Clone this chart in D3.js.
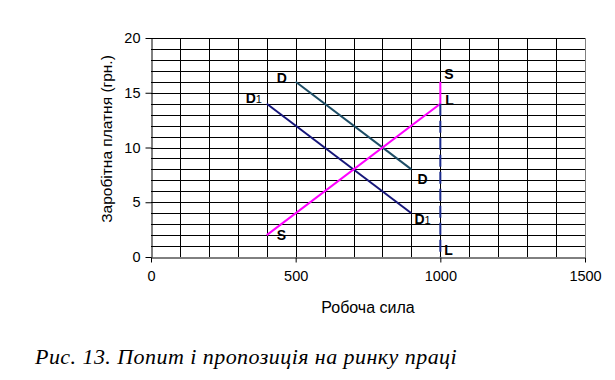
<!DOCTYPE html>
<html>
<head>
<meta charset="utf-8">
<script src="https://cdn.jsdelivr.net/npm/d3@7"></script>
<style>
body { margin: 0; background: #fff; }
</style>
</head>
<body>
<div class="chart"></div>
<script>
// data
var demandD = [[500, 16], [900, 8]];
var demandD1 = [[400, 14], [900, 4]];
var supplyS = [[400, 2], [1000, 14], [1000, 16]];
var limitL = [[1000, 14], [1000, 0]];
var xTicks = [0, 500, 1000, 1500];
var yTicks = [0, 5, 10, 15, 20];

var svgWidth = 615;
var svgHeight = 380;

var margin = { top: 38, right: 30, bottom: 123, left: 151 };
var width = 434;
var height = 219;

var sans = "'Liberation Sans', Arial, sans-serif";

var svg = d3.select(".chart")
    .append("svg")
    .attr("width", svgWidth)
    .attr("height", svgHeight);

var chartGroup = svg.append("g")
    .attr("transform", `translate(${margin.left}, ${margin.top})`);

var xScale = d3.scaleLinear().domain([0, 1500]).range([0, width]);
var yScale = d3.scaleLinear().domain([0, 20]).range([height, 0]);

// grid
chartGroup.append("g")
    .selectAll("line")
    .data(d3.range(1, 21))
    .enter()
    .append("line")
    .attr("x1", 0)
    .attr("x2", width)
    .attr("y1", d => Math.round(yScale(d)) + 0.5)
    .attr("y2", d => Math.round(yScale(d)) + 0.5)
    .attr("stroke", "#000")
    .attr("stroke-width", 1);

chartGroup.append("g")
    .selectAll("line")
    .data(d3.range(100, 1600, 100))
    .enter()
    .append("line")
    .attr("x1", d => Math.round(xScale(d)) + 0.5)
    .attr("x2", d => Math.round(xScale(d)) + 0.5)
    .attr("y1", 0)
    .attr("y2", height)
    .attr("stroke", d => d === 1500 ? "#808080" : "#000")
    .attr("stroke-width", 1);

// axes
var bottomAxis = d3.axisBottom(xScale).tickValues(xTicks).tickFormat(d3.format("d"))
    .tickSize(5).tickSizeOuter(0).tickPadding(8);
var leftAxis = d3.axisLeft(yScale).tickValues(yTicks).tickFormat(d3.format("d"))
    .tickSize(6).tickSizeOuter(0).tickPadding(5);

var xAxis = chartGroup.append("g")
    .attr("transform", `translate(0, ${height + 0.5})`)
    .call(bottomAxis);

var yAxis = chartGroup.append("g")
    .attr("transform", "translate(0.5, 0)")
    .call(leftAxis);

[xAxis, yAxis].forEach(a => {
    a.select(".domain").attr("stroke", "#000");
    a.selectAll(".tick line").attr("stroke", "#000");
    a.selectAll(".tick text")
        .style("font-family", sans)
        .style("font-size", "14.5px")
        .attr("fill", "#000");
});

// lines
var line = d3.line().x(d => xScale(d[0])).y(d => yScale(d[1]));

chartGroup.append("path")
    .datum(demandD)
    .attr("d", line)
    .attr("fill", "none")
    .attr("stroke", "#1d4d66")
    .attr("stroke-width", 2);

chartGroup.append("path")
    .datum(demandD1)
    .attr("d", line)
    .attr("fill", "none")
    .attr("stroke", "#16167a")
    .attr("stroke-width", 2);

chartGroup.append("path")
    .datum(supplyS)
    .attr("d", line)
    .attr("fill", "none")
    .attr("stroke", "#ff00ff")
    .attr("stroke-width", 2);

chartGroup.append("path")
    .datum(limitL)
    .attr("d", line)
    .attr("fill", "none")
    .attr("stroke", "#1a2a8c")
    .attr("stroke-width", 2)
    .attr("stroke-dasharray", "12,5");

// point labels
function addLabel(pt, dx, dy, name, sub) {
    var t = chartGroup.append("text")
        .attr("x", xScale(pt[0]) + dx)
        .attr("y", yScale(pt[1]) + dy)
        .style("font-family", sans)
        .style("font-size", "14px")
        .style("font-weight", "bold")
        .attr("fill", "#000")
        .text(name);
    if (sub) {
        t.append("tspan").style("font-size", "11px").style("font-weight", "normal").text(sub);
    }
}

addLabel(demandD[0], -19, 1, "D");
addLabel(demandD[1], 6, 15, "D");
addLabel(demandD1[0], -21, -1, "D", "1");
addLabel(demandD1[1], 3, 11, "D", "1");
addLabel(supplyS[0], 10, 5, "S");
addLabel(supplyS[2], 4, -3, "S");
addLabel(limitL[0], 5, 1, "L");
addLabel(limitL[1], 4, -2, "L");

// axis titles
svg.append("text")
    .attr("transform", "translate(112, 139) rotate(-90)")
    .attr("text-anchor", "middle")
    .style("font-family", sans)
    .style("font-size", "15.5px")
    .text("Заробітна платня (грн.)");

svg.append("text")
    .attr("x", 368)
    .attr("y", 313)
    .attr("text-anchor", "middle")
    .style("font-family", sans)
    .style("font-size", "16px")
    .text("Робоча сила");

// caption
svg.append("text")
    .attr("x", 35)
    .attr("y", 364)
    .style("font-family", "'Liberation Serif', 'Times New Roman', serif")
    .style("font-style", "italic")
    .style("font-size", "22px")
    .style("letter-spacing", "0.45px")
    .text("Рис. 13. Попит і пропозиція на ринку праці");
</script>
</body>
</html>
